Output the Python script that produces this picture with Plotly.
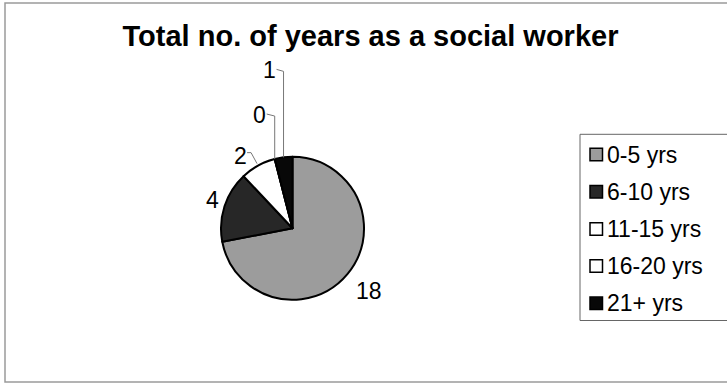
import math
import plotly.graph_objects as go

# ---------------- data ----------------
categories = ["0-5 yrs", "6-10 yrs", "11-15 yrs", "16-20 yrs", "21+ yrs"]
counts = [18, 4, 2, 0, 1]
title_text = "Total no. of years as a social worker"

# ---------------- style ----------------
colors = ["#9c9c9c", "#272727", "#ffffff", "#ffffff", "#080808"]
FONT = "Liberation Sans, Arial, sans-serif"
W, H = 727, 384
CX, CY, R = 292.5, 228.3, 71.5  # pie centre / radius in pixels

# label offsets (pixels, relative to slice edge point) and leader style
label_style = {
    "0-5 yrs": dict(dx=21, dy=17, leader=None),
    "6-10 yrs": dict(dx=-12, dy=-6, leader=None),
    "11-15 yrs": dict(dx=-18, dy=-10, leader="hook"),
    "16-20 yrs": dict(dx=-15, dy=-44, leader="vertical"),
    "21+ yrs": dict(dx=-14, dy=-87, leader="vertical"),
}


def px(x):
    return x / W


def py(y):
    return 1 - y / H


fig = go.Figure()
fig.add_trace(go.Pie(
    labels=categories, values=counts, sort=False, direction="clockwise",
    rotation=0, textinfo="none", hoverinfo="label+value",
    marker=dict(colors=colors, line=dict(color="#000000", width=2)),
    domain=dict(x=[px(CX - R), px(CX + R)], y=[py(CY + R), py(CY - R)]),
    showlegend=False,
))

annotations = []
shapes = []

# data labels computed from slice mid-angles
total = sum(counts)
cum = 0.0
for cat, v in zip(categories, counts):
    mid = (cum + v / 2) / total * 2 * math.pi
    cum += v
    ex = CX + R * math.sin(mid)
    ey = CY - R * math.cos(mid)
    st = label_style[cat]
    lx, ly = ex + st["dx"], ey + st["dy"]
    annotations.append(dict(
        x=px(lx), y=py(ly), xref="paper", yref="paper", text=str(v),
        showarrow=False, xanchor="center", yanchor="middle",
        font=dict(family=FONT, size=23, color="#000000")))
    if st["leader"] == "vertical":
        path = f"M {px(lx + 7)} {py(ly - 1)} L {px(ex)} {py(ly + 1)} L {px(ex)} {py(ey)}"
        shapes.append(dict(type="path", xref="paper", yref="paper", path=path,
                           line=dict(color="#777777", width=1)))
    elif st["leader"] == "hook":
        path = f"M {px(lx + 7)} {py(ly - 3)} L {px(lx + 11)} {py(ly - 3)} L {px(ex - 1)} {py(ey - 2)}"
        shapes.append(dict(type="path", xref="paper", yref="paper", path=path,
                           line=dict(color="#777777", width=1)))

# chart border
shapes.append(dict(type="rect", xref="paper", yref="paper",
                   x0=px(5), x1=px(780), y0=py(382), y1=py(3),
                   line=dict(color="#9a9a9a", width=1.5), layer="below"))

# manual legend
LEG_X0, LEG_Y0, LEG_Y1 = 580, 134.3, 320.5
shapes.append(dict(type="rect", xref="paper", yref="paper",
                   x0=px(LEG_X0), x1=px(780), y0=py(LEG_Y1), y1=py(LEG_Y0),
                   line=dict(color="#666666", width=1), fillcolor="#ffffff"))
ROW0, ROWSTEP, SQ = 154.5, 37.2, 12.5
for i, (cat, c) in enumerate(zip(categories, colors)):
    yc = ROW0 + i * ROWSTEP
    shapes.append(dict(type="rect", xref="paper", yref="paper",
                       x0=px(590), x1=px(590 + SQ), y0=py(yc + SQ / 2), y1=py(yc - SQ / 2),
                       line=dict(color="#000000", width=1.5), fillcolor=c))
    annotations.append(dict(
        x=px(605), y=py(yc), xref="paper", yref="paper", text=cat,
        showarrow=False, xanchor="left", yanchor="middle",
        font=dict(family=FONT, size=23, color="#000000")))

fig.update_layout(
    width=W, height=H,
    margin=dict(l=0, r=0, t=0, b=0),
    paper_bgcolor="#ffffff", plot_bgcolor="#ffffff",
    title=dict(text=f"<b>{title_text}</b>", x=px(370.5), xanchor="center",
               y=py(36), yanchor="middle",
               font=dict(family=FONT, size=29, color="#000000")),
    annotations=annotations, shapes=shapes,
)

fig.write_html("out.html")
